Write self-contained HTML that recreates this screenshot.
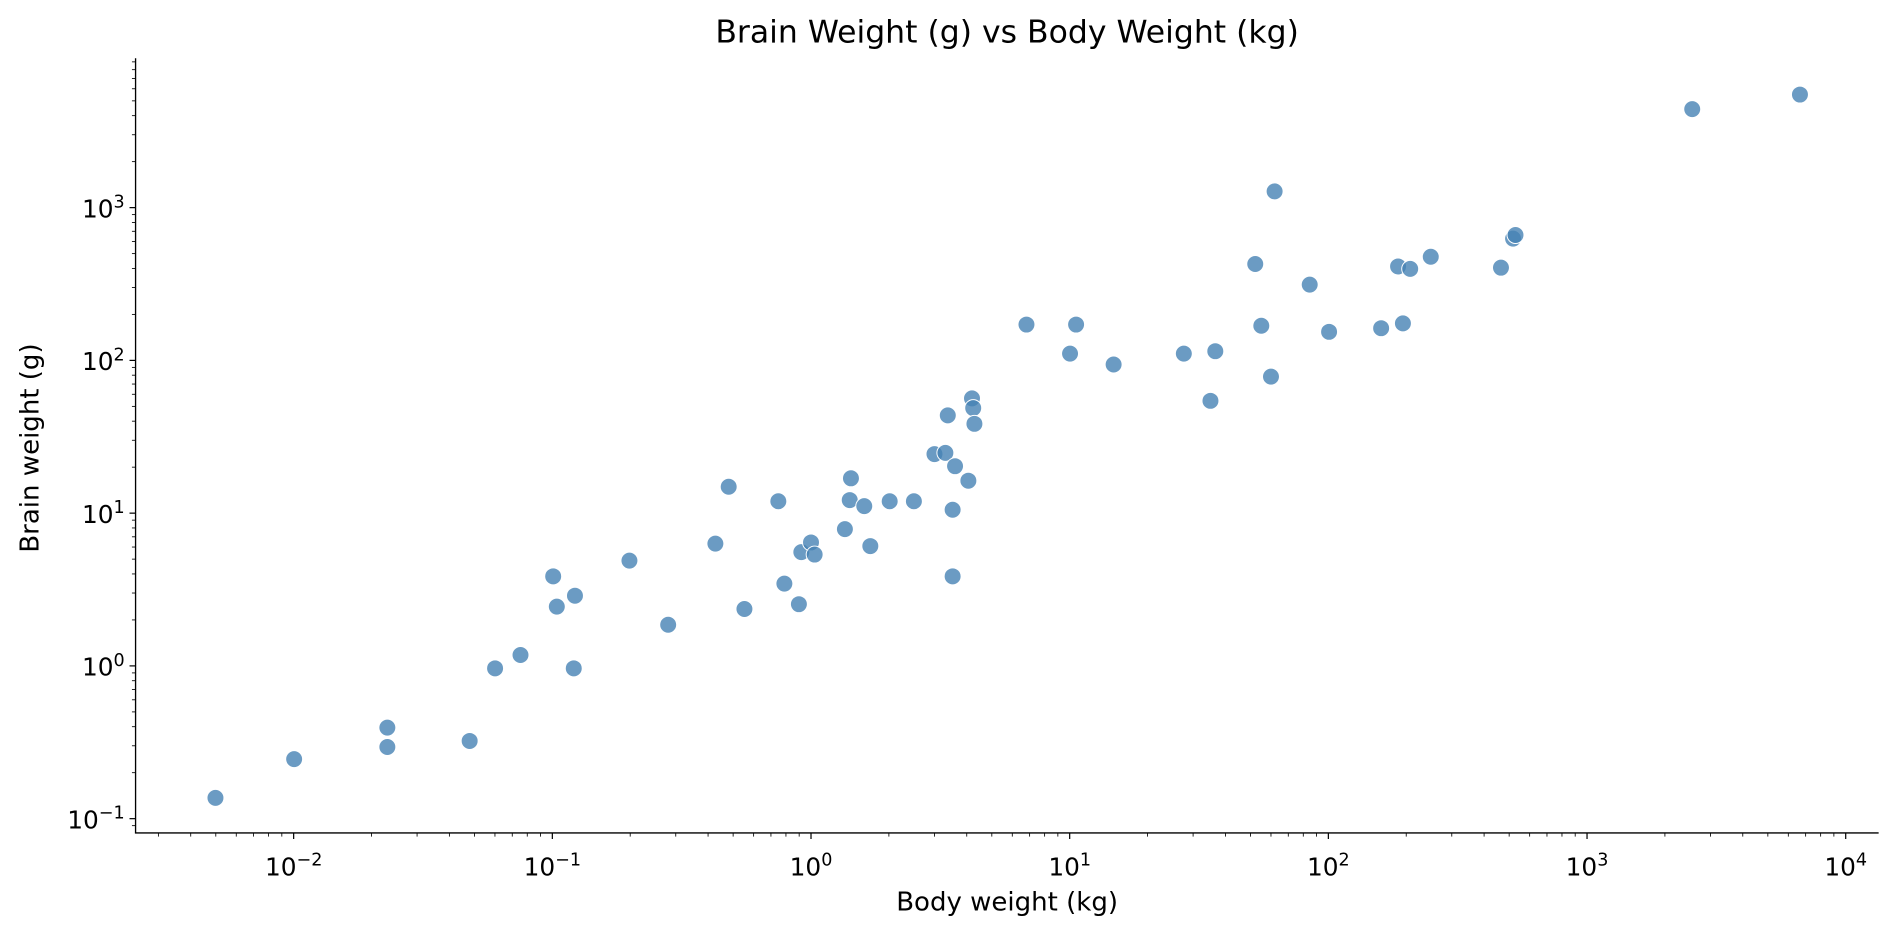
<!DOCTYPE html>
<html><head><meta charset="utf-8"><style>
html,body{margin:0;padding:0;background:#fff;}
svg{display:block;font-family:"DejaVu Sans","Liberation Sans",sans-serif;}
</style></head><body>
<svg id="s" width="1898" height="936" viewBox="0 0 1568 773" xmlns="http://www.w3.org/2000/svg">
<rect width="1568" height="773" fill="#fff"/>
<text x="832" y="35" font-size="26" text-anchor="middle" fill="#000">Brain Weight (g) vs Body Weight (kg)</text>
<text x="832" y="752" font-size="21.5" text-anchor="middle" fill="#000">Body weight (kg)</text>
<text x="370" y="32" font-size="21.5" text-anchor="middle" fill="#000" transform="rotate(-90 370 370)">Brain weight (g)</text>
<g id="ticks" stroke="#000" stroke-width="1"></g>
<g id="labels" font-size="20.5" fill="#000"></g>
<g id="pts" fill="#4682b4" fill-opacity="0.8" stroke="#fff" stroke-width="0.8"></g>
<line x1="112" y1="48" x2="112" y2="688.5" stroke="#000" stroke-width="1.1"/>
<line x1="111.5" y1="688" x2="1552" y2="688" stroke="#000" stroke-width="1.1"/>
</svg>
<script>
var NS="http://www.w3.org/2000/svg";
function el(p,t,a,txt){var e=document.createElementNS(NS,t);for(var k in a)e.setAttribute(k,a[k]);if(txt!==undefined)e.textContent=txt;document.getElementById(p).appendChild(e);return e;}
function X(l){return 670+213.7*l;} function Y(l){return 550-126.2*l;}
for(var d=-3;d<=4;d++){for(var m=1;m<10;m++){var l=d+Math.log10(m);var x=X(l);if(x<112||x>1552)continue;
 el("ticks","line",{x1:x,y1:688,x2:x,y2:688+(m==1?5:3),"stroke-width":m==1?1:0.7});}}
for(var d=-2;d<=4;d++){var x=X(d);var t=el("labels","text",{x:x,y:723,"text-anchor":"middle"});
 t.innerHTML='10<tspan dy="-8" font-size="14.5">'+(d<0?'\u2212'+(-d):d)+'</tspan>';}
for(var d=-2;d<=4;d++){for(var m=1;m<10;m++){var l=d+Math.log10(m);var y=Y(l);if(y<48||y>688)continue;
 el("ticks","line",{x1:112,y1:y,x2:112-(m==1?5:3),y2:y,"stroke-width":m==1?1:0.7});}}
for(var d=-1;d<=3;d++){var y=Y(d);var t=el("labels","text",{x:103,y:y+8,"text-anchor":"end"});
 t.innerHTML='10<tspan dy="-8" font-size="14.5">'+(d<0?'\u2212'+(-d):d)+'</tspan>';}
var P=[[178,659],[243,627],[320,601],[320,617],[388,612],[409,552],[430,541],[474,552],[457,476],[460,501],[475,492],[520,463],[552,516],[591,449],[602,402],[615,503],[643,414],[648,482],[660,499],[662,456],[670,448],[673,458],[698,437],[702,413],[703,395],[714,418],[719,451],[735,414],[755,414],[772,375],[781,374],[783,343],[787,421],[787,476],[789,385],[800,397],[803,329],[804,337],[805,350],[848,268],[884,292],[889,268],[920,301],[978,292],[1000,331],[1004,290],[1037,218],[1042,269],[1050,311],[1053,158],[1082,235],[1098,274],[1141,271],[1155,220],[1159,267],[1165,222],[1182,212],[1240,221],[1250,197],[1252,194],[1398,90],[1487,78]];
P.forEach(function(p){el("pts","circle",{cx:p[0],cy:p[1],r:7});});
</script>
</body></html>
